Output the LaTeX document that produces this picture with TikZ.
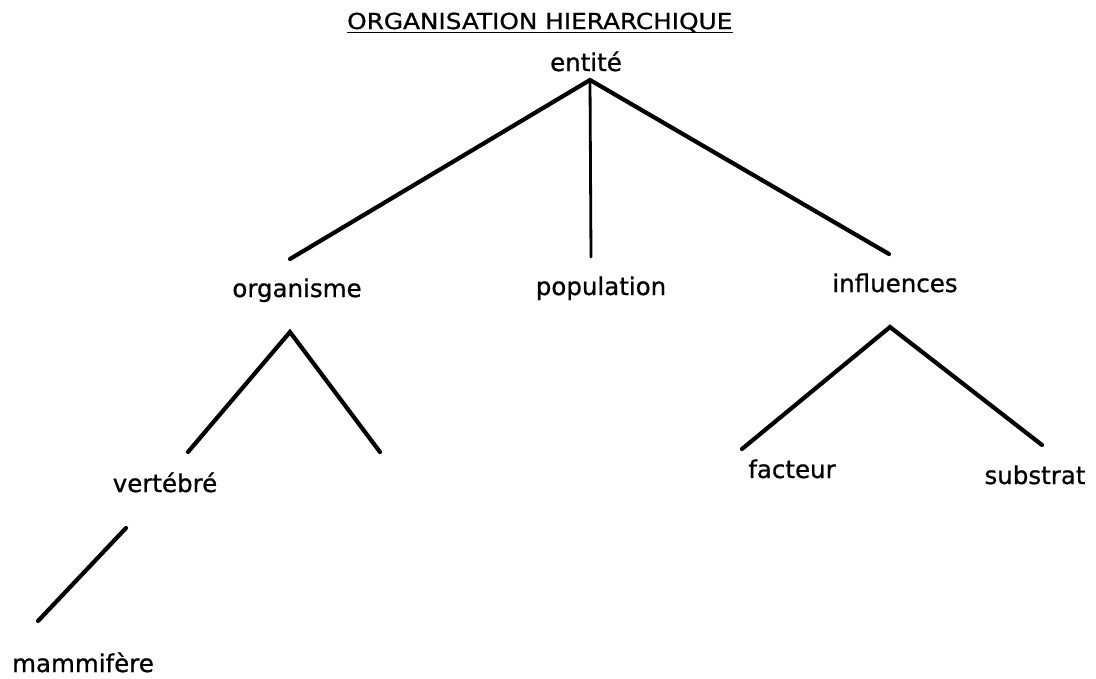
\documentclass[tikz,border=0pt]{standalone}
\usepackage{fontspec}
\setmainfont{DejaVu Sans}[FakeBold=0.8]
\begin{document}
\begin{tikzpicture}[x=1pt,y=-1pt,
  lbl/.style={anchor=base, inner sep=0pt, font=\fontsize{24.5}{28}\selectfont},
  ttl/.style={anchor=base west, inner sep=0pt, font=\fontsize{22}{26}\selectfont},
  edge/.style={line width=4.2pt, line cap=round},
  thinedge/.style={line width=2.8pt, line cap=round}]
\useasboundingbox (0,0) rectangle (1096,678);
% title
\node[ttl] (title) at (347,29) {\scalebox{1.125}[1]{ORGANISATION HIERARCHIQUE}};
\draw[line width=1.6pt] ([yshift=-3.5pt]title.base west) -- ([yshift=-3.5pt]title.base east);
% labels
\node[lbl] (entite) at (586,71) {entité};
\node[lbl] (organisme) at (297,297) {organisme};
\node[lbl] (population) at (601,295) {population};
\node[lbl] (influences) at (895,292) {influences};
\node[lbl] (vertebre) at (165,492) {vertébré};
\node[lbl] (facteur) at (792,478) {facteur};
\node[lbl] (substrat) at (1035,484) {substrat};
\node[lbl] (mammifere) at (83,672) {mammifère};
% connector end points
\coordinate (eA) at (590,80);
\coordinate (eL) at (290,259);
\coordinate (eM) at (591,257);
\coordinate (eR) at (889,254);
\coordinate (oA) at (290,332);
\coordinate (oL) at (188,452);
\coordinate (oR) at (380,452);
\coordinate (iA) at (890,327);
\coordinate (iL) at (742,449);
\coordinate (iR) at (1042,445);
\coordinate (vT) at (126,528);
\coordinate (vB) at (38,621);
% connectors
\draw[edge] (eL) -- (eA) -- (eR);
\draw[thinedge] (eA) -- (eM);
\draw[edge] (oL) -- (oA) -- (oR);
\draw[edge] (iL) -- (iA) -- (iR);
\draw[edge] (vT) -- (vB);
\end{tikzpicture}
\end{document}
